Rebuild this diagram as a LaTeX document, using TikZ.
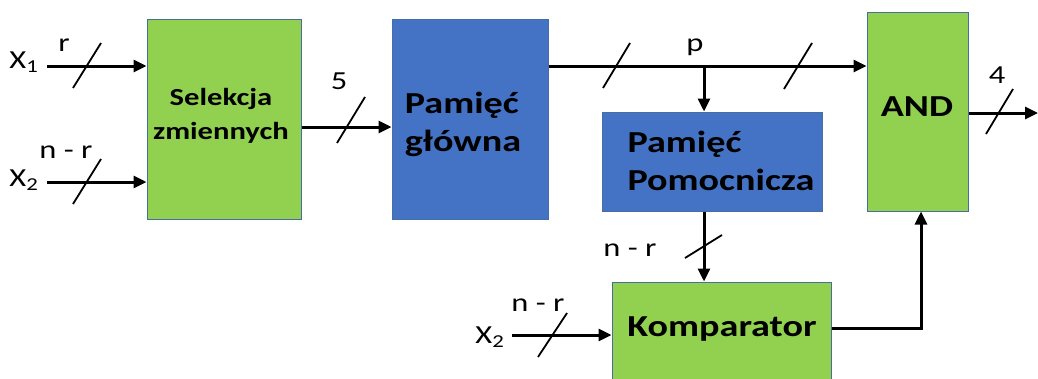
\documentclass[tikz,border=0pt]{standalone}
\usepackage{fontspec}
\setmainfont{Carlito}
\usepackage{graphicx}
\usetikzlibrary{arrows.meta}
\definecolor{boxgreen}{RGB}{146,208,80}
\definecolor{boxblue}{RGB}{68,114,196}
\definecolor{boxedge}{RGB}{70,110,160}
\newcommand{\hs}[1]{\scalebox{1.25}[1]{#1}}
\begin{document}
\begin{tikzpicture}[x=1pt,y=-1pt,
 gbox/.style={draw=boxedge, fill=boxgreen, line width=1pt, inner sep=0pt},
 bbox/.style={draw=boxedge, fill=boxblue, line width=1pt, inner sep=0pt},
 big/.style={font=\bfseries\fontsize{30.5}{38}\selectfont},
 mid/.style={font=\bfseries\fontsize{24.5}{34}\selectfont},
 lab/.style={font=\fontsize{26}{28}\selectfont, inner sep=0pt},
 wire/.style={line width=3pt, -{Triangle[length=13pt,width=12pt]}},
 bus/.style={line width=1.8pt}
]
\useasboundingbox (0,0) rectangle (1038,378);
% boxes
\node[gbox, minimum width=154pt, minimum height=200pt] (sel) at (224,119) {};
\node[mid, align=center] at (221,116) {\hs{Selekcja}\\\hs{zmiennych}};
\node[bbox, minimum width=156pt, minimum height=200pt] (main) at (470,119) {};
\node[big, align=left] at (463,124) {\hs{Pamięć}\\\hs{główna}};
\node[bbox, minimum width=220pt, minimum height=99pt] (pom) at (712,161.5) {};
\node[big, align=left] at (721,161) {\hs{Pamięć}\\\hs{Pomocnicza}};
\node[gbox, minimum width=101pt, minimum height=199pt] (and) at (917.5,111.5) {};
\node[big] at (917,107) {\hs{AND}};
\node[gbox, minimum width=219pt, minimum height=110pt] (komp) at (721.5,337) {};
\node[big] at (722,329) {\hs{Komparator}};
% coordinates
\coordinate (in1) at (47,66);
\coordinate (in2) at (47,182);
\coordinate (in3) at (512,335);
\coordinate (pbus) at (704,66);
\coordinate (out) at (1038,113);
% wires
\draw[wire] (in1) -- (in1 -| sel.west);
\draw[wire] (in2) -- (in2 -| sel.west);
\draw[wire] (sel.east |- 0,127) -- (main.west |- 0,127);
\draw[line width=3pt] (pbus -| main.east) -- (pbus);
\draw[wire] (pbus) -- (pbus -| and.west);
\draw[wire] (pbus) -- (pbus |- pom.north);
\draw[wire] (pom.south -| pbus) -- (komp.north -| pbus);
\draw[wire] (in3) -- (in3 -| komp.west);
\draw[wire] (komp.east |- 0,328) -| (and.south -| 921,0);
\draw[wire] (and.east |- out) -- (out);
% bus slashes
\draw[bus] (73,88) -- (101,43);
\draw[bus] (73,204) -- (101,159);
\draw[bus] (337,143) -- (365,97);
\draw[bus] (603,88) -- (630,43);
\draw[bus] (784,89) -- (812,43);
\draw[bus] (986,134) -- (1013,89);
\draw[bus] (685,258) -- (722,235);
\draw[bus] (538,357) -- (567,313);
% labels
\node[lab] (lx1) at (24,62) {\hs{X\textsubscript{1}}};
\node[lab] (lx2) at (24,180) {\hs{X\textsubscript{2}}};
\node[lab] (lx3) at (490,337) {\hs{X\textsubscript{2}}};
\node[lab] (lr) at (64,45) {\hs{r}};
\node[lab] (lnr1) at (66,152) {\hs{n - r}};
\node[lab] (l5) at (339,81) {\hs{5}};
\node[lab] (lp) at (695,47) {\hs{p}};
\node[lab] (l4) at (997,75) {\hs{4}};
\node[lab] (lnr2) at (630,250) {\hs{n - r}};
\node[lab] (lnr3) at (538,305) {\hs{n - r}};
\end{tikzpicture}
\end{document}
